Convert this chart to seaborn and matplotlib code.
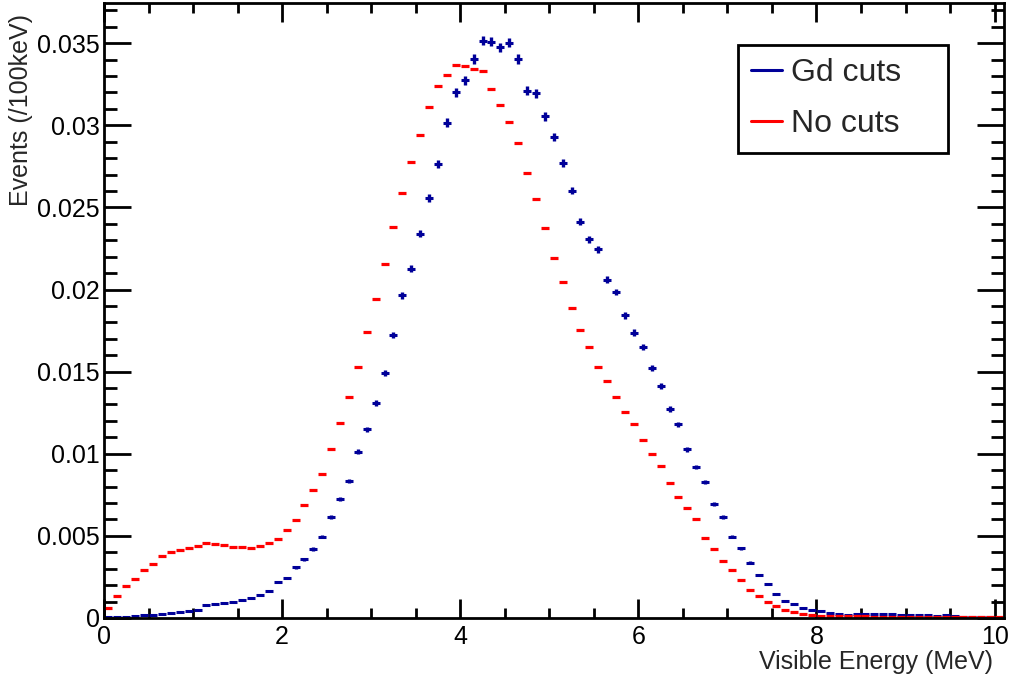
import numpy as np
import seaborn as sns
import matplotlib.pyplot as plt
from matplotlib.lines import Line2D
from matplotlib.ticker import MultipleLocator

# visible energy spectra, 100 keV bins starting at 0
bin_width = 0.1

gd_cuts = [
    0.00006, 0.00006, 0.00008, 0.00012, 0.00016, 0.00018, 0.00024, 0.00030, 0.00035, 0.00043,
    0.00047, 0.00077, 0.00083, 0.00091, 0.00099, 0.00111, 0.00122, 0.00142, 0.00166, 0.00217,
    0.00244, 0.00309, 0.00359, 0.00420, 0.00496, 0.00615, 0.00723, 0.00834, 0.01011, 0.01149,
    0.01308, 0.01492, 0.01724, 0.01965, 0.02128, 0.02341, 0.02558, 0.02763, 0.03017, 0.03200,
    0.03275, 0.03404, 0.03516, 0.03508, 0.03476, 0.03502, 0.03404, 0.03210, 0.03195, 0.03055,
    0.02929, 0.02769, 0.02603, 0.02414, 0.02306, 0.02245, 0.02061, 0.01985, 0.01843, 0.01738,
    0.01650, 0.01523, 0.01413, 0.01271, 0.01180, 0.01027, 0.00920, 0.00828, 0.00692, 0.00615,
    0.00495, 0.00424, 0.00337, 0.00262, 0.00205, 0.00148, 0.00104, 0.00085, 0.00061, 0.00049,
    0.00044, 0.00030, 0.00024, 0.00020, 0.00022, 0.00024, 0.00024, 0.00024, 0.00022, 0.00020,
    0.00018, 0.00016, 0.00016, 0.00015, 0.00016, 0.00012, 0.00008, 0.00005, 0.00004, 0.00003,
    0.00002,
]

gd_err = [
    1.0e-5, 1.0e-5, 1.5e-5, 2.0e-5, 2.0e-5, 2.0e-5, 2.5e-5, 3.0e-5, 3.0e-5, 3.0e-5,
    3.5e-5, 4.0e-5, 4.0e-5, 4.5e-5, 4.5e-5, 5.0e-5, 5.0e-5, 5.5e-5, 6.0e-5, 7.0e-5,
    7.3e-5, 8.3e-5, 9.0e-5, 9.7e-5, 1.06e-4, 1.18e-4, 1.27e-4, 1.36e-4, 1.50e-4, 1.60e-4,
    1.71e-4, 1.83e-4, 1.96e-4, 2.10e-4, 2.18e-4, 2.29e-4, 2.39e-4, 2.49e-4, 2.60e-4, 2.68e-4,
    2.71e-4, 2.76e-4, 2.80e-4, 2.80e-4, 2.79e-4, 2.80e-4, 2.76e-4, 2.68e-4, 2.67e-4, 2.62e-4,
    2.56e-4, 2.49e-4, 2.41e-4, 2.32e-4, 2.27e-4, 2.24e-4, 2.15e-4, 2.11e-4, 2.03e-4, 1.97e-4,
    1.92e-4, 1.85e-4, 1.78e-4, 1.69e-4, 1.63e-4, 1.52e-4, 1.44e-4, 1.36e-4, 1.24e-4, 1.18e-4,
    1.06e-4, 9.7e-5, 8.7e-5, 7.7e-5, 6.8e-5, 5.8e-5, 4.8e-5, 4.4e-5, 3.7e-5, 3.3e-5,
    3.1e-5, 2.6e-5, 2.3e-5, 2.0e-5, 2.0e-5, 2.0e-5, 2.0e-5, 2.0e-5, 2.0e-5, 2.0e-5,
    2.0e-5, 2.0e-5, 2.0e-5, 2.0e-5, 2.0e-5, 1.5e-5, 1.2e-5, 1.0e-5, 1.0e-5, 1.0e-5,
    1.0e-5,
]

no_cuts = [
    0.00061, 0.00132, 0.00193, 0.00238, 0.00294, 0.00327, 0.00376, 0.00400, 0.00416, 0.00428,
    0.00440, 0.00459, 0.00452, 0.00446, 0.00431, 0.00434, 0.00424, 0.00440, 0.00457, 0.00481,
    0.00534, 0.00599, 0.00685, 0.00782, 0.00875, 0.01027, 0.01188, 0.01346, 0.01529, 0.01740,
    0.01945, 0.02158, 0.02379, 0.02588, 0.02777, 0.02944, 0.03110, 0.03240, 0.03305, 0.03368,
    0.03360, 0.03343, 0.03331, 0.03222, 0.03121, 0.03019, 0.02893, 0.02708, 0.02554, 0.02372,
    0.02192, 0.02046, 0.01888, 0.01754, 0.01649, 0.01529, 0.01442, 0.01346, 0.01255, 0.01181,
    0.01082, 0.00999, 0.00926, 0.00820, 0.00739, 0.00672, 0.00601, 0.00489, 0.00420, 0.00345,
    0.00292, 0.00231, 0.00172, 0.00136, 0.00099, 0.00071, 0.00051, 0.00035, 0.00026, 0.00018,
    0.00014, 0.00012, 0.00011, 0.00011, 0.00010, 0.00010, 0.00009, 0.00009, 0.00008, 0.00008,
    0.00008, 0.00007, 0.00007, 0.00006, 0.00006, 0.00005, 0.00005, 0.00004, 0.00004, 0.00003,
    0.00003,
]

series_labels = ["Gd cuts", "No cuts"]
gd_color = "#000099"
no_color = "#ff0000"

energy = np.arange(len(no_cuts)) * bin_width + bin_width / 2

sns.set_style("ticks")
plt.rcParams["font.family"] = ["Liberation Sans", "DejaVu Sans"]

fig = plt.figure(figsize=(10.11, 6.8), dpi=100)
ax = fig.add_axes([0.1029, 0.0912, 0.8897, 0.9037])

# Gd cuts: bin-width dashes plus vertical error bars
ax.errorbar(energy, gd_cuts, yerr=gd_err, fmt="none", ecolor=gd_color,
            elinewidth=2.4, capsize=0, zorder=2)
sns.scatterplot(x=energy, y=gd_cuts, marker="_", s=34, linewidth=2.2,
                color=gd_color, ax=ax, legend=False, zorder=3)
# No cuts drawn on top
sns.scatterplot(x=energy, y=no_cuts, marker="_", s=34, linewidth=2.3,
                color=no_color, ax=ax, legend=False, zorder=4)

ax.set_xlim(0, 10.1)
ax.set_ylim(0, 0.03742)

ax.xaxis.set_major_locator(MultipleLocator(2))
ax.xaxis.set_minor_locator(MultipleLocator(0.5))
ax.yaxis.set_major_locator(MultipleLocator(0.005))
ax.yaxis.set_minor_locator(MultipleLocator(0.001))
ax.set_xticks([0, 2, 4, 6, 8, 10])
ax.set_xticklabels(["0", "2", "4", "6", "8", "10"])
ax.set_yticks([0, 0.005, 0.01, 0.015, 0.02, 0.025, 0.03, 0.035])
ax.set_yticklabels(["0", "0.005", "0.01", "0.015", "0.02", "0.025", "0.03", "0.035"])

ax.tick_params(which="both", direction="in", top=True, right=True,
               width=2, color="black", labelsize=18, labelcolor="black")
ax.tick_params(axis="x", which="major", length=14, pad=5)
ax.tick_params(axis="x", which="minor", length=7)
ax.tick_params(axis="y", which="major", length=19.5, pad=3)
ax.tick_params(axis="y", which="minor", length=9.5)
for sp in ax.spines.values():
    sp.set_linewidth(2)
    sp.set_color("black")
    sp.set_zorder(5)

ax.set_xlabel("Visible Energy (MeV)", fontsize=18, ha="right", va="center")
ax.xaxis.set_label_coords(0.988, -0.072)
ax.set_ylabel("Events (/100keV)", fontsize=18, ha="right", va="center")
ax.yaxis.set_label_coords(-0.0925, 0.983)

handles = [Line2D([], [], color=gd_color, lw=2.2), Line2D([], [], color=no_color, lw=2.2)]
leg = ax.legend(handles, series_labels, loc="upper left",
                bbox_to_anchor=(0.7048, 0.9325, 0.2335, 0.0), mode="expand",
                fontsize=23, frameon=True, fancybox=False, framealpha=1,
                edgecolor="black", borderpad=0.42, labelspacing=0.65,
                handlelength=0.95, handletextpad=0.3, borderaxespad=0)
leg.get_frame().set_linewidth(2)

fig.savefig("out.png", dpi=100)
